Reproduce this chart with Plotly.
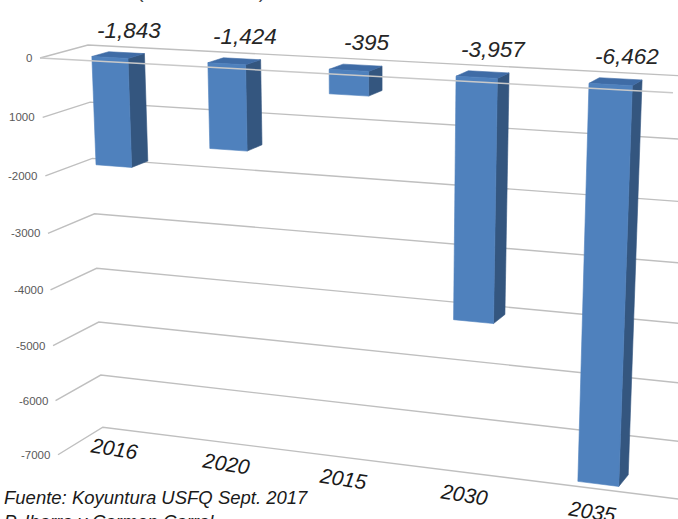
import plotly.graph_objects as go

# ---- data -----------------------------------------------------------------
categories = ["2016", "2020", "2015", "2030", "2035"]
values = [-1843, -1424, -395, -3957, -6462]
value_text = ["-1,843", "-1,424", "-395", "-3,957", "-6,462"]
tick_values = [0, -1000, -2000, -3000, -4000, -5000, -6000, -7000]
tick_text = ["0", "1000", "-2000", "-3000", "-4000", "-5000", "-6000", "-7000"]
title_text = "Déficit del IESS (millones USD)"
source_lines = ["Fuente: Koyuntura USFQ Sept. 2017", "P. Ibarra y Carmen Carral"]

# ---- page / style ---------------------------------------------------------
W, H = 678, 519
FONT = "Liberation Sans, Arial, Helvetica, sans-serif"
GRID = "#BFBFBF"
AXIS_LINE = "#C9C9C9"
FRONT = "#4F81BD"
TOP = "#3F6CA6"
SIDE = "#34567F"

# ---- 3-D perspective camera ----------------------------------------------
# World axes: x = category slot (0..n), v = value, z = depth (0 front, 1 back).
# Each direction is given by its vanishing point on the page and a
# homogeneous weight; ORIGIN is where the front-left corner at v=0 lands.
VP_X = (-5134.0, -226.0)
VP_V = (380.0, 7557.0)
VP_Z = (1230.0, -264.0)
ORIGIN = (40.0, 58.0)
W_X, W_V, W_Z = -0.0218, -7.98e-6, 0.042

N_SLOTS = len(categories)
BAR_HALF = 0.158          # half bar width, in category slots
Z_FRONT, Z_BACK = 0.27, 0.63
Z_LABEL = 0.45


def project(x, v, z):
    a, b, c = W_X * x, W_V * v, W_Z * z
    w = a + b + c + 1.0
    px = (a * VP_X[0] + b * VP_V[0] + c * VP_Z[0] + ORIGIN[0]) / w
    py = (a * VP_X[1] + b * VP_V[1] + c * VP_Z[1] + ORIGIN[1]) / w
    return px, py


def face(points, color):
    pts = [project(*p) for p in points]
    pts.append(pts[0])
    return go.Scatter(
        x=[p[0] for p in pts], y=[p[1] for p in pts],
        mode="lines", fill="toself", fillcolor=color,
        line=dict(color=color, width=0.6),
        hoverinfo="skip", showlegend=False,
    )


def polyline(segments, color, width):
    xs, ys = [], []
    for seg in segments:
        for p in seg:
            px, py = project(*p)
            xs.append(px)
            ys.append(py)
        xs.append(None)
        ys.append(None)
    return go.Scatter(x=xs, y=ys, mode="lines",
                      line=dict(color=color, width=width),
                      hoverinfo="skip", showlegend=False)


def paper_x(px):
    return px / W


def paper_y(py):
    return 1.0 - py / H


fig = go.Figure()

# side-wall and back-wall gridlines
grid_segments = [[(0, tv, 0), (0, tv, 1), (N_SLOTS, tv, 1)] for tv in tick_values]
fig.add_trace(polyline(grid_segments, GRID, 1.4))

# bars hanging down from zero
for i, val in enumerate(values):
    xc = i + 0.5
    x0, x1 = xc - BAR_HALF, xc + BAR_HALF
    fig.add_trace(face([(x1, 0, Z_FRONT), (x1, 0, Z_BACK),
                        (x1, val, Z_BACK), (x1, val, Z_FRONT)], SIDE))
    fig.add_trace(face([(x0, 0, Z_FRONT), (x1, 0, Z_FRONT),
                        (x1, 0, Z_BACK), (x0, 0, Z_BACK)], TOP))
    fig.add_trace(face([(x0, 0, Z_FRONT), (x1, 0, Z_FRONT),
                        (x1, val, Z_FRONT), (x0, val, Z_FRONT)], FRONT))

# category axis line along the front edge of the floor
fig.add_trace(polyline([[(0, 0, 0), (N_SLOTS, 0, 0)]], AXIS_LINE, 1.5))

annotations = []

# value-axis tick labels
for tv, tt in zip(tick_values, tick_text):
    px, py = project(0, tv, 0)
    annotations.append(dict(
        x=paper_x(px), y=paper_y(py), xref="paper", yref="paper",
        text=tt, showarrow=False,
        xanchor="right", yanchor="middle", xshift=-6,
        font=dict(family=FONT, size=11.5, color="#595959")))

# category labels under the floor of the chart
bottom = tick_values[-1]
for i, cat in enumerate(categories):
    px, py = project(i + 0.5, bottom, 0)
    annotations.append(dict(
        x=paper_x(px), y=paper_y(py), xref="paper", yref="paper",
        text=cat, showarrow=False,
        xanchor="center", yanchor="middle", xshift=2, yshift=13,
        textangle=9,
        font=dict(family=FONT, size=21, color="#1A1A1A", style="italic")))

# value labels above each bar
for i, (val, txt) in enumerate(zip(values, value_text)):
    px, py = project(i + 0.5, 0, Z_LABEL)
    annotations.append(dict(
        x=paper_x(px), y=paper_y(py), xref="paper", yref="paper",
        text=txt, showarrow=False,
        xanchor="center", yanchor="middle", xshift=11, yshift=25,
        font=dict(family=FONT, size=22.5, color="#262626", style="italic")))

# title (mostly above the visible page)
annotations.append(dict(
    x=paper_x(-2), y=paper_y(4), xref="paper", yref="paper", text=title_text,
    showarrow=False, xanchor="left", yanchor="bottom",
    font=dict(family=FONT, size=19, color="#404040")))

# source notes
for k, line in enumerate(source_lines):
    annotations.append(dict(
        x=paper_x(2), y=paper_y(497 + 24 * k), xref="paper", yref="paper",
        text=line, showarrow=False, xanchor="left", yanchor="middle",
        font=dict(family=FONT, size=18.5, color="#1A1A1A", style="italic")))

fig.update_layout(
    width=W, height=H, autosize=False,
    margin=dict(l=0, r=0, t=0, b=0, pad=0),
    paper_bgcolor="white", plot_bgcolor="white",
    xaxis=dict(range=[0, W], visible=False, fixedrange=True),
    yaxis=dict(range=[H, 0], visible=False, fixedrange=True),
    annotations=annotations,
    showlegend=False,
)

fig.write_html("out.html")
